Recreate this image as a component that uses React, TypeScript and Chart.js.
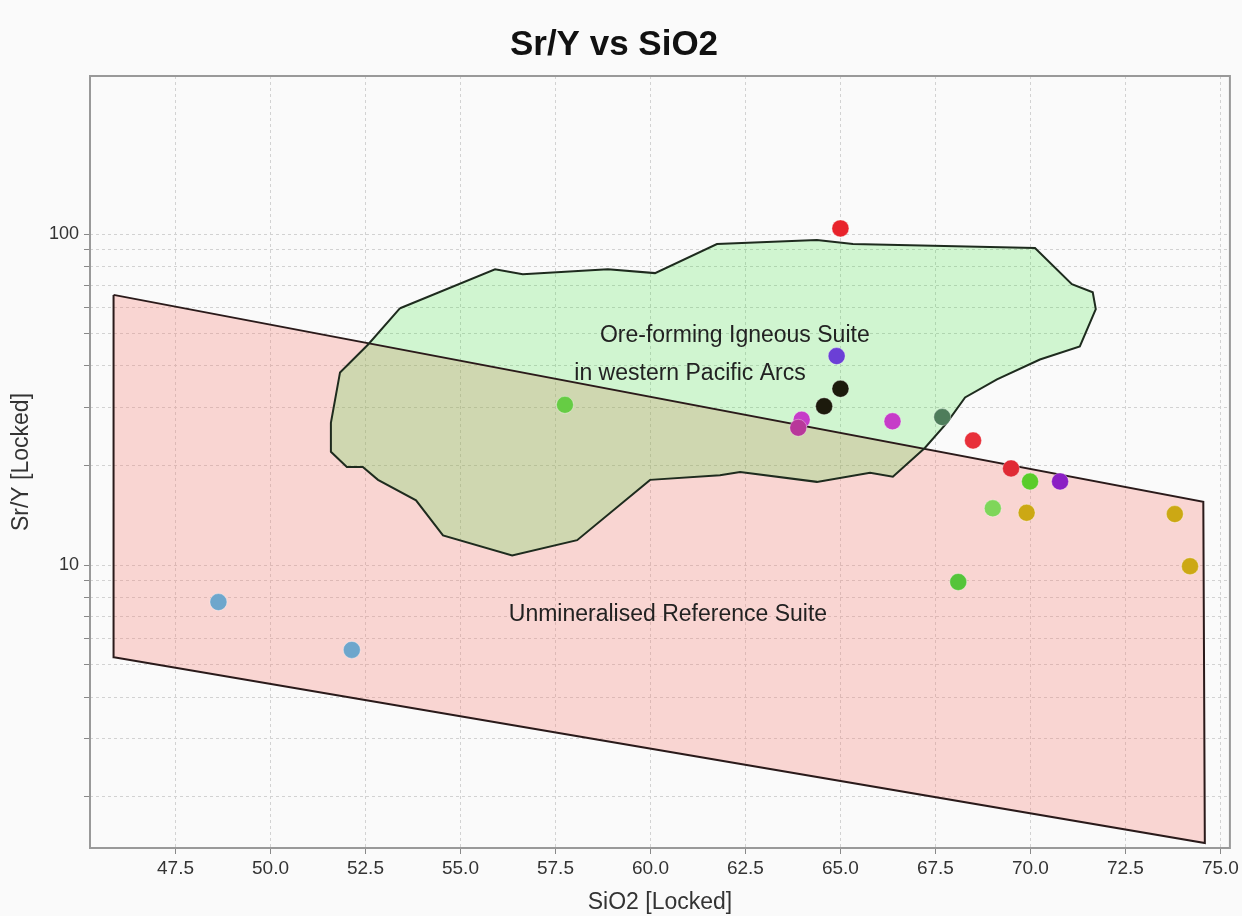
import React, { useEffect, useRef } from 'react';
import { Chart, registerables } from 'chart.js';

Chart.register(...registerables);

const FONT = '"Liberation Sans", Arial, Helvetica, sans-serif';

// Sample points (SiO2 wt%, Sr/Y)
const sio2 = [65.0, 64.9, 65.0, 64.57, 63.98, 63.89, 66.37, 67.68, 68.49, 69.49, 69.99, 70.78, 69.01, 69.9, 73.8, 74.2, 68.1, 57.75, 48.63, 52.14];
const srY = [104, 42.8, 34.1, 30.2, 27.5, 26.0, 27.2, 28.0, 23.8, 19.6, 17.9, 17.9, 14.85, 14.4, 14.27, 9.93, 8.9, 30.5, 7.74, 5.55];
const pointColors = [
  '#e8232b', '#6b3fd6', '#1c1a0c', '#1c1a0c', '#c63cc8', '#b8389a', '#c63cc8', '#4e7d5b',
  '#e8303a', '#e02a35', '#5acc2a', '#8b1fc4', '#7fd65a', '#cca814', '#cca814', '#cca814',
  '#55c43a', '#66cc44', '#6ea6cc', '#6ea6cc',
];

// Ore-forming Igneous Suite field (outline vertices)
const oreX = [53.41, 55.91, 56.64, 58.88, 60.12, 61.75, 64.38, 65.33, 70.12, 71.09, 71.64, 71.72, 71.30, 70.25, 69.12, 68.28, 67.80, 67.22, 66.38, 65.78, 64.38, 62.36, 61.83, 59.99, 58.07, 56.36, 54.54, 53.83, 52.83, 52.43, 52.01, 51.59, 51.59, 51.83, 52.57, 53.41];
const oreY = [59.7, 78.3, 75.6, 78.3, 76.2, 93.3, 95.9, 93.3, 90.7, 70.6, 66.7, 59.3, 45.8, 41.8, 36.4, 32.1, 26.9, 22.6, 18.5, 19.0, 17.85, 19.1, 18.7, 18.1, 11.9, 10.7, 12.3, 15.7, 18.1, 19.8, 19.8, 22.0, 26.9, 38.2, 46.4, 59.7];

// Unmineralised Reference Suite field
const refX = [45.87, 74.55, 74.59, 45.88, 45.87];
const refY = [65.5, 15.55, 1.45, 5.27, 65.5];

const xTicks = [47.5, 50.0, 52.5, 55.0, 57.5, 60.0, 62.5, 65.0, 67.5, 70.0, 72.5, 75.0];
const yGrid = [2, 3, 4, 5, 6, 7, 8, 9, 10, 20, 30, 40, 50, 60, 70, 80, 90, 100];
const yLabels = [10, 100];

const labels = [
  { text: 'Ore-forming Igneous Suite', x: 62.22, y: 49.4 },
  { text: 'in western Pacific Arcs', x: 61.04, y: 37.8 },
  { text: 'Unmineralised Reference Suite', x: 60.46, y: 7.1 },
];

const decorPlugin = {
  id: 'decor',
  beforeDraw(chart: any) {
    const { ctx, width, height } = chart;
    ctx.save();
    ctx.fillStyle = '#fafafa';
    ctx.fillRect(0, 0, width, height);
    ctx.restore();
  },
  afterDatasetsDraw(chart: any) {
    const { ctx } = chart;
    const xs = chart.scales.x;
    const ys = chart.scales.y;
    ctx.save();
    ctx.font = `23px ${FONT}`;
    ctx.fillStyle = '#222';
    ctx.textAlign = 'center';
    ctx.textBaseline = 'middle';
    for (const l of labels) {
      ctx.fillText(l.text, xs.getPixelForValue(l.x), ys.getPixelForValue(l.y));
    }
    ctx.restore();
  },
  afterDraw(chart: any) {
    const { ctx, chartArea } = chart;
    ctx.save();
    ctx.strokeStyle = '#999';
    ctx.lineWidth = 2;
    ctx.strokeRect(chartArea.left, chartArea.top, chartArea.right - chartArea.left, chartArea.bottom - chartArea.top);
    ctx.font = `bold 35px ${FONT}`;
    ctx.fillStyle = '#111';
    ctx.textAlign = 'center';
    ctx.textBaseline = 'middle';
    ctx.fillText('Sr/Y vs SiO2', 614, 45);
    ctx.restore();
  },
};

export default function App() {
  const canvasRef = useRef<HTMLCanvasElement | null>(null);

  useEffect(() => {
    if (!canvasRef.current) return;
    const chart = new Chart(canvasRef.current, {
      type: 'scatter',
      data: {
        datasets: [
          {
            type: 'scatter',
            data: sio2.map((x, i) => ({ x, y: srY[i] })),
            backgroundColor: pointColors,
            borderColor: 'rgba(255,255,255,0.35)',
            borderWidth: 1,
            pointRadius: 8.5,
            pointHoverRadius: 8.5,
          } as any,
          {
            type: 'line',
            data: oreX.map((x, i) => ({ x, y: oreY[i] })),
            borderColor: '#1e2b1e',
            borderWidth: 2,
            backgroundColor: 'rgba(40,225,40,0.2)',
            fill: 'shape',
            pointRadius: 0,
            tension: 0,
          } as any,
          {
            type: 'line',
            data: refX.map((x, i) => ({ x, y: refY[i] })),
            borderColor: '#2a1a1a',
            borderWidth: 2,
            backgroundColor: 'rgba(250,130,120,0.3)',
            fill: 'shape',
            pointRadius: 0,
            tension: 0,
          } as any,
        ],
      },
      options: {
        responsive: false,
        animation: false,
        events: [],
        layout: { padding: { top: 76, right: 12, left: 0, bottom: 0 } },
        plugins: {
          legend: { display: false },
          tooltip: { enabled: false },
          filler: { drawTime: 'beforeDatasetsDraw' },
        } as any,
        scales: {
          x: {
            type: 'linear',
            min: 45.25,
            max: 75.25,
            afterBuildTicks: (s: any) => {
              s.ticks = xTicks.map((v) => ({ value: v }));
            },
            afterFit: (s: any) => {
              s.height = 68;
            },
            ticks: {
              callback: (v: any) => Number(v).toFixed(1),
              font: { family: FONT, size: 19 },
              color: '#333',
              padding: 3,
              maxRotation: 0,
              autoSkip: false,
            },
            grid: {
              color: '#d2d2d2',
              lineWidth: 1,
              drawTicks: true,
              tickLength: 6,
              tickColor: '#888',
              tickBorderDash: [],
            },
            border: { display: false, dash: [3, 3] },
            title: {
              display: true,
              text: 'SiO2 [Locked]',
              font: { family: FONT, size: 23 },
              color: '#333',
              padding: { top: 0, bottom: 0 },
            },
          } as any,
          y: {
            type: 'logarithmic',
            min: 1.4,
            max: 300,
            afterBuildTicks: (s: any) => {
              s.ticks = yGrid.map((v) => ({ value: v }));
            },
            afterFit: (s: any) => {
              s.width = 90;
            },
            ticks: {
              callback: (v: any) => (yLabels.includes(Number(v)) ? String(v) : ''),
              font: { family: FONT, size: 18 },
              color: '#333',
              padding: 5,
              autoSkip: false,
            },
            grid: {
              color: '#d2d2d2',
              lineWidth: 1,
              drawTicks: true,
              tickLength: 6,
              tickColor: '#888',
              tickBorderDash: [],
            },
            border: { display: false, dash: [3, 3] },
            title: {
              display: true,
              text: 'Sr/Y [Locked]',
              font: { family: FONT, size: 23 },
              color: '#333',
              padding: { top: 8, bottom: 0 },
            },
          } as any,
        },
      },
      plugins: [decorPlugin],
    });
    return () => chart.destroy();
  }, []);

  return (
    <div style={{ position: 'fixed', left: 0, top: 0, width: 1242, height: 916 }}>
      <canvas ref={canvasRef} width={1242} height={916} style={{ display: 'block' }} />
    </div>
  );
}
